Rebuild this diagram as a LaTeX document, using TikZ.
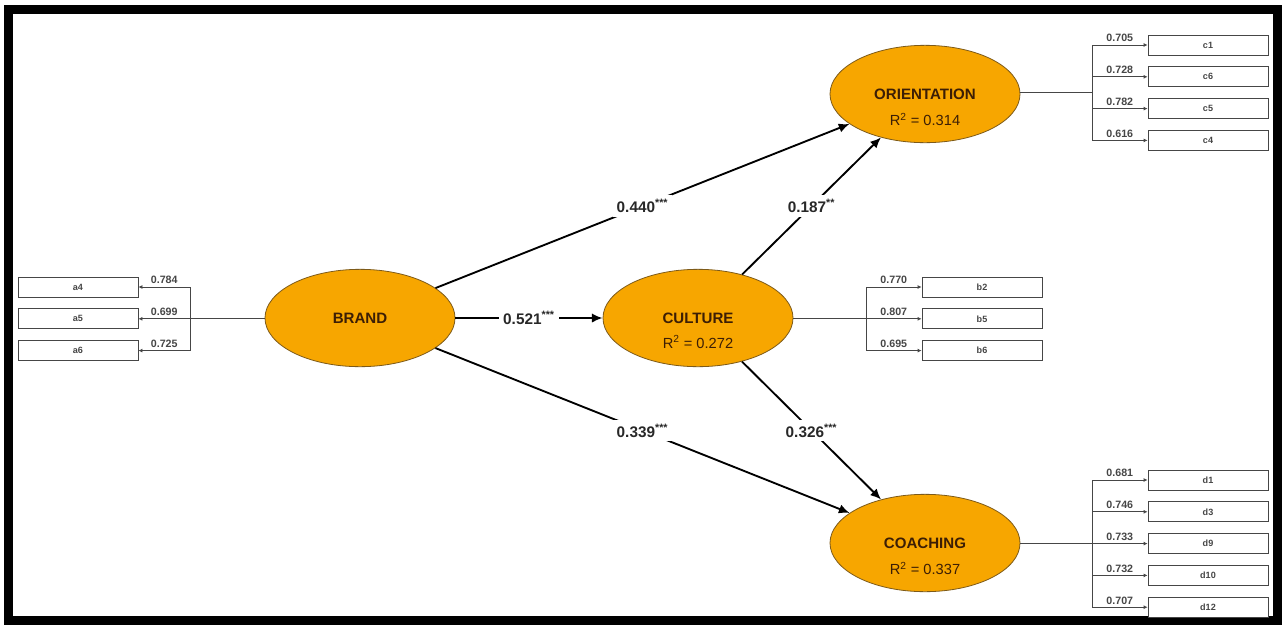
\documentclass[tikz,border=0pt]{standalone}
\usepackage{fontspec}
\setmainfont{Liberation Sans}
\usetikzlibrary{shapes,
                arrows.meta,
                positioning}
\definecolor{lvfill}{RGB}{247,166,0}
\definecolor{lvdraw}{RGB}{125,90,25}
\definecolor{lvtext}{RGB}{60,30,5}
\definecolor{indgray}{RGB}{70,70,70}
\definecolor{coeftext}{RGB}{40,40,40}
\tikzset{latent/.style =
   {ellipse,
    draw=lvdraw,
    fill=lvfill,
    line width=0.6pt,
    minimum width=142.5pt,
    minimum height=73pt,
    inner sep=0pt,
    text=lvtext,
    font=\fontsize{11.3}{13}\selectfont\bfseries}}
\tikzset{rsquare/.style =
   {text=lvtext,
    inner sep=0pt,
    font=\fontsize{11}{13}\selectfont}}
\tikzset{indicator/.style =
   {rectangle,
    draw=indgray,
    fill=white,
    line width=0.6pt,
    minimum width=90pt,
    minimum height=15pt,
    inner sep=0pt,
    text=indgray,
    font=\fontsize{6.8}{7}\selectfont\bfseries}}
\tikzset{loading/.style = {draw=indgray, line width=0.6pt}}
\tikzset{loading-arrow/.style = {loading, -{Latex[length=3pt,width=3pt]}}}
\tikzset{weight/.style =
   {text=indgray,
    inner sep=2pt,
    font=\fontsize{8}{9}\selectfont\bfseries}}
\tikzset{structural/.style = {draw, line width=1.4pt, -{Latex[length=8pt,width=7pt]}}}
\tikzset{coef/.style =
   {fill=white,
    text=coeftext,
    inner sep=3pt,
    font=\fontsize{11.5}{13}\selectfont\bfseries}}

\begin{document}
\begin{tikzpicture}[x=0.75pt, y=-0.75pt]

    \useasboundingbox (0,0) rectangle (1286,626);
    \fill[white] (0,0) rectangle (1286,626);
    \draw[line width=6.75pt] (8,9) rectangle (1277.5,620.5);

    % latent variables
    \node [latent] (brand) at (360,318) {BRAND};
    \node [latent] (culture) at (698,318) {CULTURE};
    \node [latent] (orientation) at (925,94) {ORIENTATION};
    \node [latent] (coaching) at (925,543) {COACHING};

    \node [rsquare] (culture-r2) at ([yshift=-18pt]culture.center) {R\textsuperscript{2} = 0.272};
    \node [rsquare] (orientation-r2) at ([yshift=-19pt]orientation.center) {R\textsuperscript{2} = 0.314};
    \node [rsquare] (coaching-r2) at ([yshift=-19pt]coaching.center) {R\textsuperscript{2} = 0.337};

    % indicators
    \node [indicator] (a4) at (78,287) {a4};
    \node [indicator,
           node distance = 8.25pt,
           below = of a4] (a5) {a5};
    \node [indicator,
           node distance = 8.25pt,
           below = of a5] (a6) {a6};

    \node [indicator] (b2) at (982,287) {b2};
    \node [indicator,
           node distance = 8.25pt,
           below = of b2] (b5) {b5};
    \node [indicator,
           node distance = 8.25pt,
           below = of b5] (b6) {b6};

    \node [indicator] (c1) at (1208,45) {c1};
    \node [indicator,
           node distance = 8.25pt,
           below = of c1] (c6) {c6};
    \node [indicator,
           node distance = 8.25pt,
           below = of c6] (c5) {c5};
    \node [indicator,
           node distance = 8.25pt,
           below = of c5] (c4) {c4};

    \node [indicator] (d1) at (1208,480) {d1};
    \node [indicator,
           node distance = 8.25pt,
           below = of d1] (d3) {d3};
    \node [indicator,
           node distance = 8.25pt,
           below = of d3] (d9) {d9};
    \node [indicator,
           node distance = 8.25pt,
           below = of d9] (d10) {d10};
    \node [indicator,
           node distance = 8.25pt,
           below = of d10] (d12) {d12};

    \coordinate (abar) at (190,318);
    \coordinate (bbar) at (866,318);
    \coordinate (cbar) at (1092,92);
    \coordinate (dbar) at (1092,543);

    % outer loadings
    \draw[loading] (brand) -- (abar);
    \draw[loading] (abar |- a4) -- (abar |- a6);
    \draw[loading-arrow] (abar |- a4) -- (a4) node[weight, midway, above] {0.784};
    \draw[loading-arrow] (abar |- a5) -- (a5) node[weight, midway, above] {0.699};
    \draw[loading-arrow] (abar |- a6) -- (a6) node[weight, midway, above] {0.725};

    \draw[loading] (culture) -- (bbar);
    \draw[loading] (bbar |- b2) -- (bbar |- b6);
    \draw[loading-arrow] (bbar |- b2) -- (b2) node[weight, midway, above] {0.770};
    \draw[loading-arrow] (bbar |- b5) -- (b5) node[weight, midway, above] {0.807};
    \draw[loading-arrow] (bbar |- b6) -- (b6) node[weight, midway, above] {0.695};

    \draw[loading] (orientation.east |- cbar) -- (cbar);
    \draw[loading] (cbar |- c1) -- (cbar |- c4);
    \draw[loading-arrow] (cbar |- c1) -- (c1) node[weight, midway, above] {0.705};
    \draw[loading-arrow] (cbar |- c6) -- (c6) node[weight, midway, above] {0.728};
    \draw[loading-arrow] (cbar |- c5) -- (c5) node[weight, midway, above] {0.782};
    \draw[loading-arrow] (cbar |- c4) -- (c4) node[weight, midway, above] {0.616};

    \draw[loading] (coaching) -- (dbar);
    \draw[loading] (dbar |- d1) -- (dbar |- d12);
    \draw[loading-arrow] (dbar |- d1) -- (d1) node[weight, midway, above] {0.681};
    \draw[loading-arrow] (dbar |- d3) -- (d3) node[weight, midway, above] {0.746};
    \draw[loading-arrow] (dbar |- d9) -- (d9) node[weight, midway, above] {0.733};
    \draw[loading-arrow] (dbar |- d10) -- (d10) node[weight, midway, above] {0.732};
    \draw[loading-arrow] (dbar |- d12) -- (d12) node[weight, midway, above] {0.707};

    % inner model
    \draw[structural] (brand) -- (culture) node[coef, midway] {0.521\textsuperscript{***}};
    \draw[structural] (brand) -- (orientation) node[coef, midway] {0.440\textsuperscript{***}};
    \draw[structural] (brand) -- (coaching) node[coef, midway] {0.339\textsuperscript{***}};
    \draw[structural] (culture) -- (orientation) node[coef, midway] {0.187\textsuperscript{**}};
    \draw[structural] (culture) -- (coaching) node[coef, midway] {0.326\textsuperscript{***}};

\end{tikzpicture}
\end{document}
